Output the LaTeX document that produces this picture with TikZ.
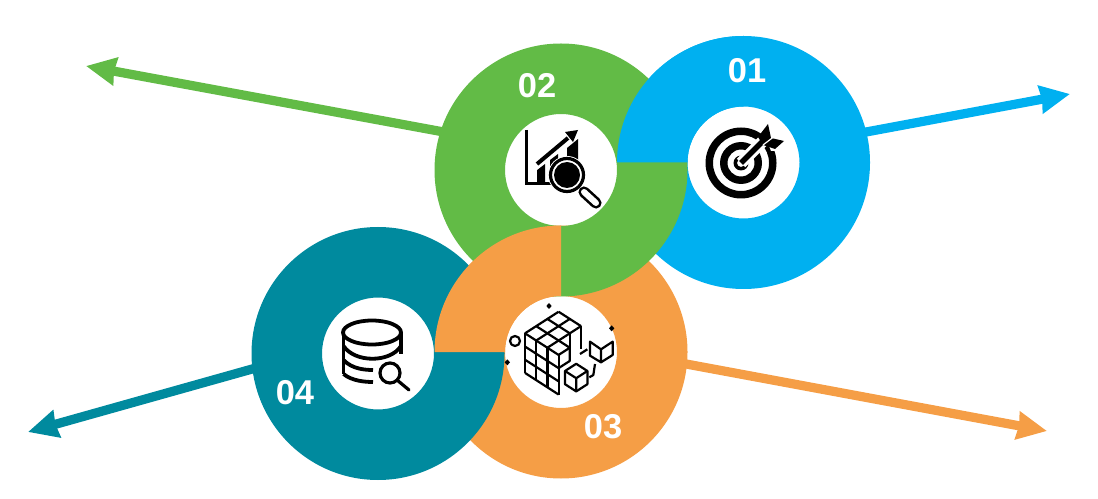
\documentclass[tikz,border=0pt]{standalone}
\usepackage{fontspec, tkz-euclide}
\setmainfont{Liberation Sans}
\usetikzlibrary{arrows.meta}
\definecolor{blueA}{HTML}{00B0F0}
\definecolor{greenA}{HTML}{62BB46}
\definecolor{orangeA}{HTML}{F59E46}
\definecolor{tealA}{HTML}{008A9E}
\tikzset{>=stealth,
  ray/.style={line width=2.3mm, -{Stealth[length=7.4mm,width=6.8mm,inset=.3mm]}},
  num/.style={text=white, font=\fontsize{24.5}{24.5}\selectfont\bfseries},
  icon/.style={line width=.95mm, black},
  thinicon/.style={line width=.55mm, black, line join=round},
  zoomed/.style={x=.25mm/3, y=-.25mm/3}
}
\newcommand{\ringpart}[4]{% colour, centre, start angle, end angle
  \fill[#1, shift={(#2)}] (#3:126.5) arc[start angle=#3, end angle=#4, radius=126.5]
    -- (#4:56) arc[start angle=#4, end angle=#3, radius=56] -- cycle;}
\begin{document}
\begin{tikzpicture}[x=0.25mm, y=-0.25mm]
\useasboundingbox (0,0) rectangle (1098,499);
\tkzDefPoints{743.5/162.5/A, 561/170/B, 561/352/C, 378/353.5/D}
\tkzDefPoints{850/135/E, 1070/94/F, 460/135/G, 86/66/H, 670/361/I, 1047/431/J, 270/364/K, 28/432/L}
\tkzDrawSegment[ray, color=blueA](E,F)
\tkzDrawSegment[ray, color=greenA](G,H)
\tkzDrawSegment[ray, color=orangeA](I,J)
\tkzDrawSegment[ray, color=tealA](K,L)
\ringpart{blueA}{A}{0}{360}
\ringpart{orangeA}{C}{0}{360}
\ringpart{greenA}{B}{0}{360}
\ringpart{blueA}{A}{180}{270}
\ringpart{tealA}{D}{0}{360}
\ringpart{orangeA}{C}{180}{270}
\node[num] (n1) at (747,71) {01};
\node[num] (n2) at (537,86) {02};
\node[num] (n3) at (603,427) {03};
\node[num] (n4) at (295,393) {04};
% target
\begin{scope}[shift={(741,163)}]
\fill[even odd rule] (0,0) circle (35.5) (0,0) circle (28) (0,0) circle (21)
  (0,0) circle (13.5) (0,0) circle (7.5) (0,0) circle (4);
\draw[white, line width=3mm] (0,0) -- (24,-24);
\fill[white] (19,-40) -- (40,-38) -- (40,-12) -- (30,-12) -- cycle;
\draw[black, line width=1.4mm] (0,0) -- (24,-24);
\fill (27,-39) -- (17,-26) -- (22,-18) -- (34,-14) -- (43,-22) -- (30,-25) -- cycle;
\draw[white, line width=.3mm] (22,-18) -- (39,-31);
\end{scope}
% chart
\begin{scope}[shift={(510,120)}]
\draw[black, line width=.85mm] (16.5,10) -- (16.5,63.5) -- (42,63.5);
\fill (27,50) -- (35,44) -- (35,62) -- (27,62) -- cycle;
\fill (40,40) -- (48,34) -- (48,50) -- (40,50) -- cycle;
\fill (57,28) -- (68,19) -- (68,44) -- (57,44) -- cycle;
\draw[white, line width=1.9mm] (22,49) -- (58,18);
\draw[black, line width=1mm] (27,44) -- (58,18);
\fill (68,10) -- (55,12) -- (63,22) -- cycle;
\fill[white] (57,55) circle (19);
\draw[black, line width=.8mm] (57,55) circle (16.5);
\fill (57,55) circle (13);
\draw[black, line width=2.8mm, line cap=round] (74,72) -- (86,83);
\draw[white, line width=1.5mm, line cap=round] (74,72) -- (86,83);
\end{scope}
% cube
\begin{scope}[shift={(500,290)}, zoomed]
\draw[thinicon] (45,153) circle (15);
\foreach \p in {(147,48),(335,115),(22,217)}
  \fill \p +(0,-9) -- +(8,0) -- +(0,9) -- +(-8,0) -- cycle;
\draw[thinicon] (270,155) -- (303,178) -- (338,155) -- (338,195) -- (303,217) -- (270,197) -- cycle (303,178) -- (303,217);
\draw[thinicon] (285,222) -- (280,255) -- (268,262) (240,192) -- (262,178);
\begin{scope}[shift={(75,130)}, x={(2.8mm,-1.8mm)}, y={(2.8mm,1.8mm)}, z={(0mm,-3.3mm)}]
\foreach \i in {0,1,2,3} {
  \draw[thinicon] (\i,0,0) -- (\i,0,3);
  \draw[thinicon] (0,\i,0) -- (2,\i,0);
}
\foreach \i in {0,1,2} \draw[thinicon] (\i,0,0) -- (\i,3,0);
\foreach \k in {1,2,3} \draw[thinicon] (0,0,\k) -- (3,0,\k);
\draw[thinicon] (2,0,0) -- (3,0,0) -- (3,1,0) -- (2,1,0);
\draw[thinicon] (3,1,0) -- (3,1,1) -- (3,0,1);
\draw[thinicon] (2,2,0) -- (2,2,1.4) (2,3,0) -- (2,3,1.7);
\end{scope}
\begin{scope}[shift={(195,243)}, x={(2.8mm,-1.8mm)}, y={(2.8mm,1.8mm)}, z={(0mm,-3.3mm)}]
\filldraw[thinicon, fill=white] (0,0,0) -- (0,1,0) -- (1,1,0) -- (1,1,1) -- (1,0,1) -- (0,0,1) -- cycle;
\draw[thinicon] (0,0,0) -- (1,0,0) -- (1,1,0) (1,0,0) -- (1,0,1);
\end{scope}
\end{scope}
% database
\begin{scope}[shift={(330,310)}]
\draw[icon] (42,22.5) ellipse (29 and 12);
\draw[icon] (13.5,22.5) -- (13.5,64) (71,22.5) -- (71,44);
\draw[icon] (13.5,36) .. controls (25,53) and (60,53) .. (71,36);
\draw[icon] (13.5,50) .. controls (22,59) and (35,60) .. (43,60);
\draw[icon] (13.5,64) .. controls (22,71) and (35,72) .. (43,72);
\fill[white] (60,63) circle (12);
\draw[black, line width=.8mm] (60,63) circle (10);
\draw[black, line width=.8mm, line cap=round] (67,70) -- (79,80);
\end{scope}
\end{tikzpicture}
\end{document}
